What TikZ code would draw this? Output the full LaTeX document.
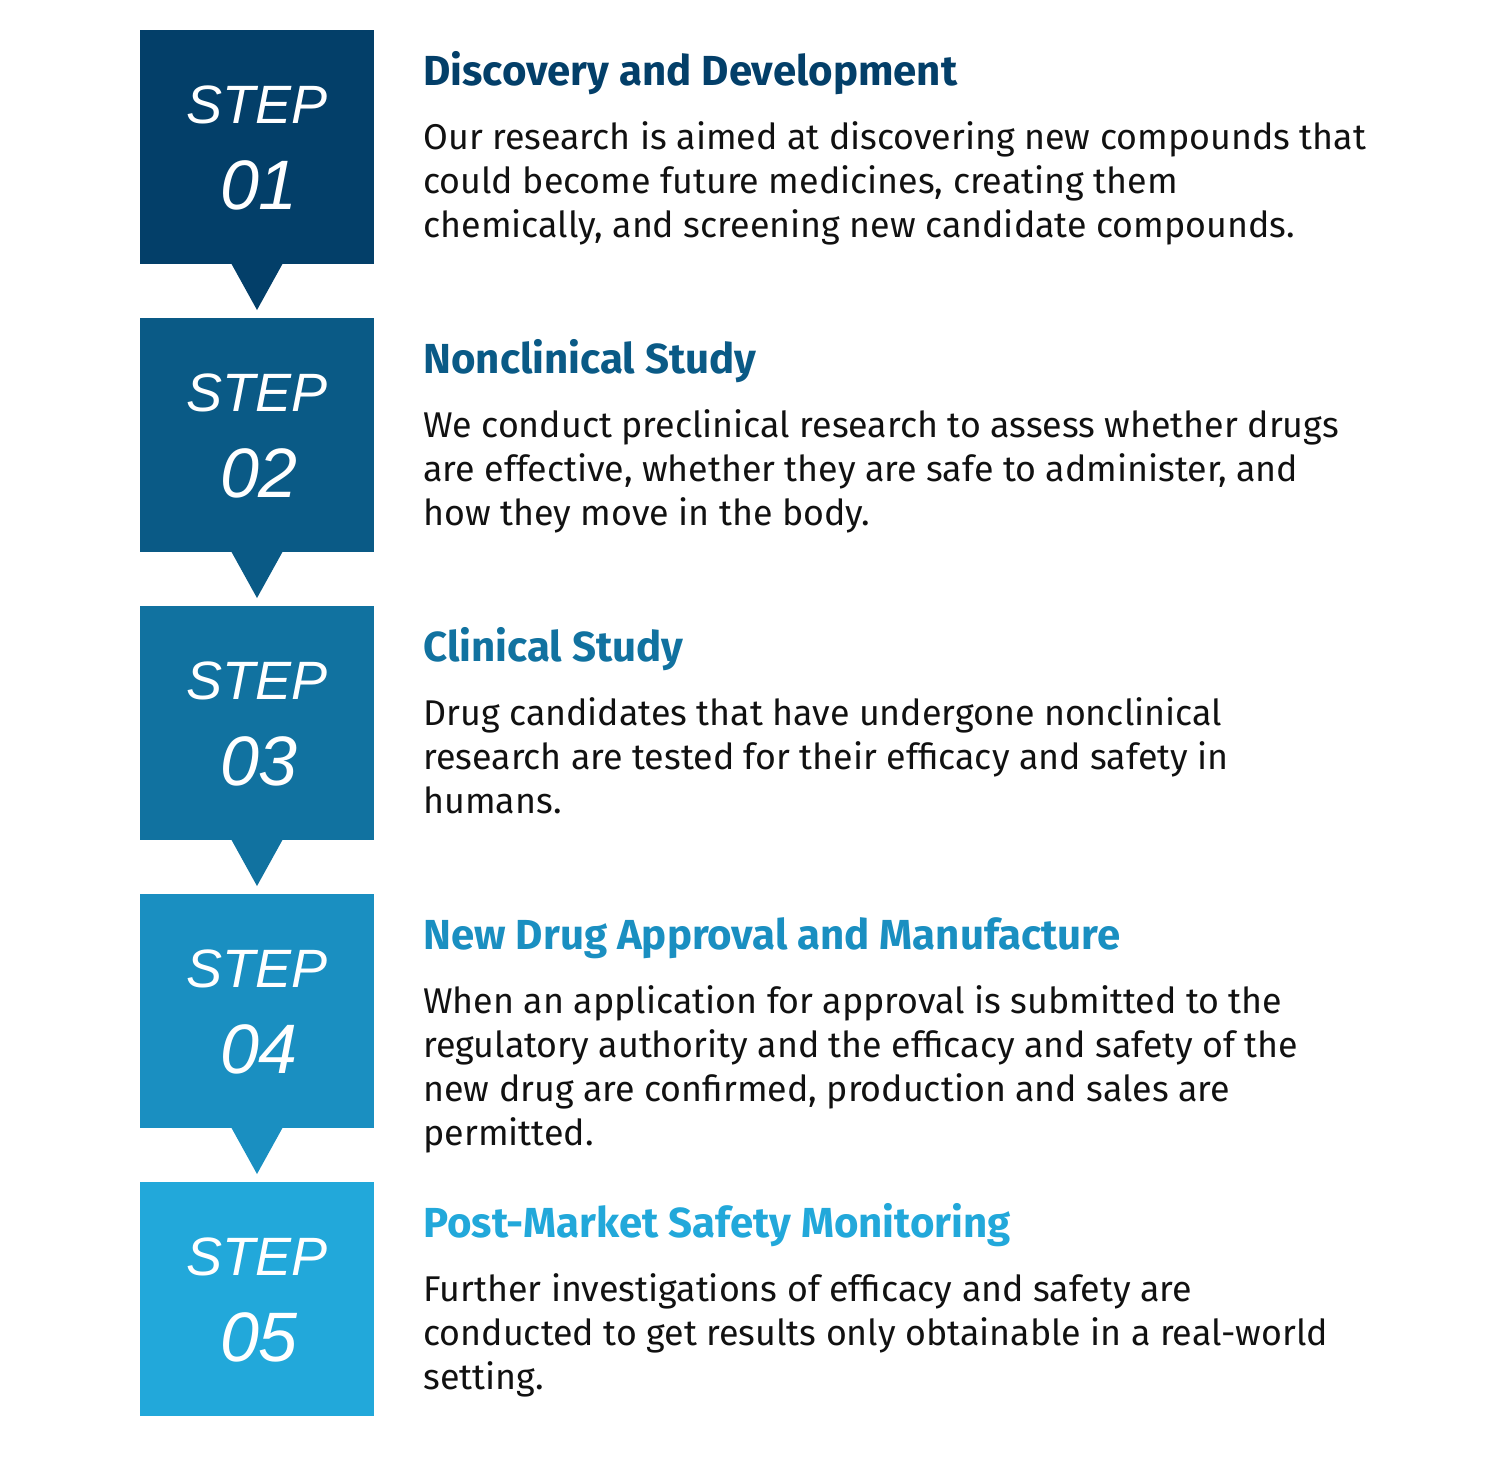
\documentclass[tikz,border=0pt]{standalone}
\usepackage{fontspec}
\setmainfont{Fira Sans}
\newfontfamily\stepfont{Liberation Sans}
\definecolor{cA}{HTML}{033F69}
\definecolor{cB}{HTML}{0A5A86}
\definecolor{cC}{HTML}{1172A0}
\definecolor{cD}{HTML}{1A8FC1}
\definecolor{cE}{HTML}{22A8DA}
\definecolor{body}{HTML}{111111}
\begin{document}
\begin{tikzpicture}[x=0.5pt,y=-0.5pt,
  stepbox/.style={minimum width=117pt,minimum height=117pt,inner sep=0,anchor=north west,align=center,text=white},
  ttl/.style={anchor=base west,inner sep=0,font=\fontsize{21}{24}\selectfont\bfseries},
  bodytxt/.style={anchor=north west,inner sep=0,align=left,text=body,font=\fontsize{17.9}{22}\selectfont}]
\useasboundingbox (0,0) rectangle (1510,1462);
\foreach \i/\c/\n/\t/\b in {
 0/cA/01/{Discovery and Development}/{Our research is aimed at discovering new compounds that\\could become future medicines, creating them\\chemically, and screening new candidate compounds.},
 1/cB/02/{Nonclinical Study}/{We conduct preclinical research to assess whether drugs\\are effective, whether they are safe to administer, and\\how they move in the body.},
 2/cC/03/{Clinical Study}/{Drug candidates that have undergone nonclinical\\research are tested for their efficacy and safety in\\humans.},
 3/cD/04/{New Drug Approval and Manufacture}/{When an application for approval is submitted to the\\regulatory authority and the efficacy and safety of the\\new drug are confirmed, production and sales are\\permitted.},
 4/cE/05/{Post-Market Safety Monitoring}/{Further investigations of efficacy and safety are\\conducted to get results only obtainable in a real-world\\setting.}}{
  \pgfmathsetmacro{\y}{30+288*\i}
  \fill[\c] (140,\y) rectangle (374,\y+234);
  \node[stepbox] (s\i) at (140,\y) {};
  \node[text=white,font=\stepfont\itshape\fontsize{27}{28}\selectfont] (sl\i) at (257,\y+75) {STEP};
  \node[text=white,font=\stepfont\itshape\fontsize{35}{36}\selectfont] (sn\i) at (259,\y+155) {\n};
  \ifnum\i<4 \fill[\c] (231,\y+233) -- (283,\y+233) -- (257,\y+280) -- cycle; \fi
  \node[ttl,text=\c] (t\i) at (423,\y+55) {\t};
  \node[bodytxt] (b\i) at (423,\y+88) {\strut\b};
}
\end{tikzpicture}
\end{document}
